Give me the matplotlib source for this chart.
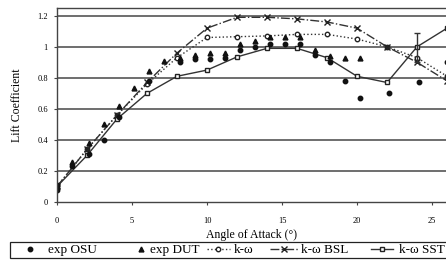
import matplotlib
matplotlib.use("Agg")
import matplotlib.pyplot as plt
import matplotlib.patches as mpatches

plt.rcParams['font.family'] = ['Liberation Serif', 'DejaVu Serif']

osu_x = [0, 0, 1.0, 2.1, 3.1, 4.1, 6.1, 8.2, 9.2, 10.2, 11.2, 12.2, 13.2, 14.2, 15.2, 16.2, 17.2, 18.2, 19.2, 20.2, 22.1, 24.1, 26.0]
osu_y = [0.08, 0.11, 0.23, 0.31, 0.40, 0.55, 0.78, 0.90, 0.92, 0.92, 0.93, 0.98, 1.00, 1.02, 1.02, 1.02, 0.95, 0.90, 0.78, 0.67, 0.70, 0.77, 0.90]

dut_x = [0, 1.0, 2.1, 3.1, 4.1, 5.1, 6.1, 7.1, 8.2, 9.2, 10.2, 11.2, 12.2, 13.2, 14.2, 15.2, 16.2, 17.2, 18.2, 19.2, 20.2]
dut_y = [0.10, 0.26, 0.38, 0.50, 0.62, 0.735, 0.845, 0.91, 0.93, 0.95, 0.96, 0.96, 1.02, 1.04, 1.06, 1.06, 1.06, 0.98, 0.94, 0.93, 0.93]

# CFD results
cfd_x = [0, 2, 4, 6, 8, 10, 12, 14, 16, 18, 20, 22, 24, 26]
kw_y = [0.10, 0.34, 0.56, 0.76, 0.93, 1.06, 1.065, 1.07, 1.08, 1.08, 1.05, 1.00, 0.93, 0.81]
bsl_y = [0.10, 0.34, 0.56, 0.77, 0.96, 1.12, 1.19, 1.19, 1.18, 1.16, 1.12, 1.00, 0.90, 0.78]
sst_y = [0.10, 0.30, 0.535, 0.70, 0.81, 0.85, 0.935, 0.99, 0.99, 0.93, 0.81, 0.77, 1.00, 1.12]

err_x = 24
err_y = 1.00
err_lo = 0.10
err_hi = 0.09

yticks = [0, 0.2, 0.4, 0.6, 0.8, 1.0, 1.2]
yticklabels = ["0", "0.2", "0.4", "0.6", "0.8", "1", "1.2"]
xticks = [0, 5, 10, 15, 20, 25]

W, H = 446, 263
fig = plt.figure(figsize=(W / 100, H / 100), dpi=100)
ax = fig.add_axes([57 / W, 61 / H, 389 / W, 194 / H])

for yy in yticks[1:]:
    ax.axhline(yy, color="#555555", lw=1.2, zorder=0)

ax.plot(cfd_x, kw_y, ':', color="#333333", lw=1.0, marker='o', ms=3.2,
        markerfacecolor='white', markeredgecolor="#222222", label="k-\u03c9")
ax.plot(cfd_x, bsl_y, '-.', color="#333333", lw=1.0, marker='x', ms=3.8,
        markeredgecolor="#222222", label="k-\u03c9 BSL")
ax.plot(cfd_x, sst_y, '-', color="#333333", lw=1.0, marker='s', ms=3.2,
        markerfacecolor='white', markeredgecolor="#222222", label="k-\u03c9 SST")
ax.errorbar([err_x], [err_y], yerr=[[err_lo], [err_hi]], fmt='none',
            ecolor="#333333", elinewidth=1.0, capsize=2.5)
ax.plot(osu_x, osu_y, 'o', color="#111111", ms=3.2, label="exp OSU")
ax.plot(dut_x, dut_y, '^', color="#111111", ms=3.5, label="exp DUT")

ax.set_xlim(0, 25.93)
ax.set_ylim(0, 1.25)
ax.set_yticks(yticks)
ax.set_yticklabels(yticklabels)
ax.set_xticks(xticks)
ax.tick_params(labelsize=6, length=2.5, width=0.8, color="#444444", pad=8)
ax.tick_params(axis='y', pad=4)
for s in ['left', 'bottom', 'top']:
    ax.spines[s].set_color("#444444")
    ax.spines[s].set_linewidth(1.0)
ax.spines['right'].set_visible(False)

ax.set_xlabel("Angle of Attack (\u00b0)", fontsize=8.5, labelpad=3)
ax.set_ylabel("Lift Coefficient", fontsize=8.5, labelpad=10)

# legend box along the bottom, entries placed like the original
frame = mpatches.Rectangle((10 / W, 5 / H), 460 / W, 16 / H, transform=fig.transFigure,
                           facecolor='white', edgecolor="#222222", lw=0.9)
fig.patches.append(frame)

handles, labels = ax.get_legend_handles_labels()
order = [3, 4, 0, 1, 2]
starts = [20, 134, 207, 270, 371]
hlens = [1.5, 1.0, 1.74, 2.12, 1.67]
pads = [0.6, 0.18, 0.3, 0.23, 0.45]
for i, x0, hl, tp in zip(order, starts, hlens, pads):
    fig.legend([handles[i]], [labels[i]], loc="center left",
               bbox_to_anchor=(x0 / W, 13 / H), frameon=False, fontsize=9.5,
               borderpad=0, borderaxespad=0, handlelength=hl, handletextpad=tp)

fig.savefig("out.png", dpi=100)
